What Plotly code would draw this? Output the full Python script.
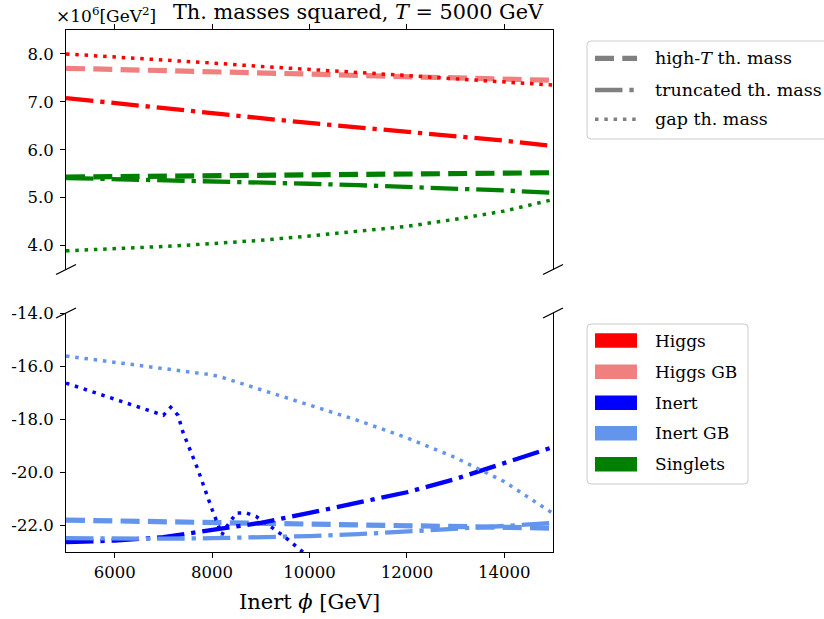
import plotly.graph_objects as go

# ---------------- data (values in units of 1e6 GeV^2) ----------------
x_grid = [5000, 6000, 7000, 8000, 9000, 10000, 11000, 12000, 13000, 14000, 15000]

# upper panel
higgs_trunc = [7.08, 6.97, 6.86, 6.76, 6.66, 6.56, 6.47, 6.38, 6.29, 6.19, 6.08]
higgs_gap = [8.00, 7.94, 7.87, 7.81, 7.74, 7.68, 7.61, 7.55, 7.48, 7.42, 7.35]
higgsgb_hight = [7.70, 7.68, 7.65, 7.63, 7.60, 7.58, 7.55, 7.53, 7.50, 7.48, 7.45]
singlet_hight = [5.43, 5.44, 5.45, 5.45, 5.46, 5.47, 5.48, 5.49, 5.50, 5.51, 5.52]
singlet_trunc = [5.41, 5.39, 5.37, 5.35, 5.32, 5.29, 5.26, 5.23, 5.19, 5.15, 5.10]
singlet_gap = [3.89, 3.93, 3.98, 4.04, 4.11, 4.20, 4.30, 4.40, 4.55, 4.72, 4.96]

# lower panel
inert_trunc = [-22.63, -22.57, -22.44, -22.18, -21.90, -21.53, -21.15, -20.75, -20.25, -19.63, -19.05]
inertgb_hight = [-21.80, -21.83, -21.86, -21.89, -21.92, -21.95, -21.98, -22.01, -22.04, -22.07, -22.10]
inertgb_trunc = [-22.48, -22.50, -22.50, -22.48, -22.45, -22.40, -22.33, -22.24, -22.13, -22.02, -21.90]
inert_gap_x = [5000, 6000, 7000, 7150, 7300, 7400, 7700, 8000, 8200, 8300, 8500, 8700, 8900, 9200, 9500, 9800, 10000]
inert_gap = [-16.64, -17.25, -17.85, -17.55, -17.85, -18.48, -19.85, -21.40, -22.35, -22.04, -21.53, -21.53,
             -21.66, -22.04, -22.44, -22.90, -23.20]
inertgb_gap_x = [5000, 6000, 7000, 8000, 8200, 9000, 10000, 11000, 12000, 13000, 14000, 15000]
inertgb_gap = [-15.62, -15.85, -16.07, -16.33, -16.42, -16.88, -17.45, -18.05, -18.70, -19.45, -20.35, -21.55]

x_ticks = [6000, 8000, 10000, 12000, 14000]
x_ticklabels = ["6000", "8000", "10000", "12000", "14000"]
y_top_ticks = [4.0, 5.0, 6.0, 7.0, 8.0]
y_top_labels = ["4.0", "5.0", "6.0", "7.0", "8.0"]
y_bot_ticks = [-22.0, -20.0, -18.0, -16.0, -14.0]
y_bot_labels = ["-22.0", "-20.0", "-18.0", "-16.0", "-14.0"]

species_names = ["Higgs", "Higgs GB", "Inert", "Inert GB", "Singlets"]
species_colors = ["#ff0000", "#f08080", "#0000ff", "#6495ed", "#008000"]
style_names = ["high-<i>T</i> th. mass", "truncated th. mass", "gap th. mass"]

# ---------------- styles ----------------
FONT = "DejaVu Serif"
STYLES = {
    "dash": dict(width=5.2, dash="19px,8.3px"),
    "dashdot": dict(width=4.3, dash="27.5px,6.9px,4.3px,6.9px"),
    "dot": dict(width=3.5, dash="3.5px,5.8px"),
}
C = dict(zip(species_names, species_colors))

fig = go.Figure()


def add(x, y, name, style, panel):
    ax = dict(xaxis="x2", yaxis="y2") if panel == "top" else dict(xaxis="x", yaxis="y")
    fig.add_trace(go.Scatter(x=x, y=y, mode="lines", showlegend=False, name=name,
                             line=dict(color=C[name], **STYLES[style]), **ax))


# dashed first, then dash-dot, then dotted
add(x_grid, higgsgb_hight, "Higgs GB", "dash", "top")
add(x_grid, singlet_hight, "Singlets", "dash", "top")
add(x_grid, inertgb_hight, "Inert GB", "dash", "bot")
add(x_grid, higgs_trunc, "Higgs", "dashdot", "top")
add(x_grid, singlet_trunc, "Singlets", "dashdot", "top")
add(x_grid, inert_trunc, "Inert", "dashdot", "bot")
add(x_grid, inertgb_trunc, "Inert GB", "dashdot", "bot")
add(x_grid, higgs_gap, "Higgs", "dot", "top")
add(x_grid, singlet_gap, "Singlets", "dot", "top")
add(inert_gap_x, inert_gap, "Inert", "dot", "bot")
add(inertgb_gap_x, inertgb_gap, "Inert GB", "dot", "bot")

# ---------------- layout geometry ----------------
W, H = 824, 619
L, R, T, B = 66, 271, 30, 67
PW, PH = W - L - R, H - T - B


def px(xp):
    return (xp - L) / PW


def py(yp):
    return (H - B - yp) / PH


top_dom = [py(269.5), 1.0]
bot_dom = [0.0, py(313)]

axis_common = dict(showgrid=False, zeroline=False, linecolor="black", linewidth=1.1,
                   ticks="outside", ticklen=5, tickwidth=1, tickcolor="black",
                   tickfont=dict(family=FONT, size=16.5, color="black"))

fig.update_layout(
    width=W, height=H, margin=dict(l=L, r=R, t=T, b=B),
    paper_bgcolor="white", plot_bgcolor="white", template="none",
    font=dict(family=FONT, size=16, color="black"),
    showlegend=False,
    title=dict(text="Th. masses squared, <i>T</i> = 5000 GeV", x=px(358), xref="paper",
               xanchor="center", y=1 - 12 / H, yref="container", yanchor="middle",
               font=dict(family=FONT, size=20.8, color="black")),
    xaxis=dict(domain=[0, 1], anchor="y", range=[5000, 15000], tickvals=x_ticks,
               ticktext=x_ticklabels, showline=True, mirror=False, side="bottom",
               title=dict(text="Inert <i>ϕ</i> [GeV]", font=dict(family=FONT, size=21, color="black"),
                          standoff=13),
               **axis_common),
    xaxis2=dict(domain=[0, 1], anchor="y2", matches="x", range=[5000, 15000], tickvals=x_ticks,
                showticklabels=False, showline=True, mirror=False, side="top", **axis_common),
    yaxis=dict(domain=bot_dom, anchor="x", range=[-23, -14], tickvals=y_bot_ticks,
               ticktext=y_bot_labels, showline=True, mirror=True, ticklabelstandoff=3, **axis_common),
    yaxis2=dict(domain=top_dom, anchor="x2", range=[3.5, 8.5], tickvals=y_top_ticks,
                ticktext=y_top_labels, showline=True, mirror=True, ticklabelstandoff=3, **axis_common),
)

shapes = []
annotations = []

# break marks
for (cx, cy) in [(L, 269.5), (L + PW, 269.5), (L, 313), (L + PW, 313)]:
    shapes.append(dict(type="line", xref="paper", yref="paper",
                       x0=px(cx - 10), y0=py(cy + 5), x1=px(cx + 10), y1=py(cy - 5),
                       line=dict(color="black", width=1.3)))

# offset text
annotations.append(dict(text="×10<sup>6</sup>[GeV<sup>2</sup>]", xref="paper", yref="paper",
                        x=px(54), y=py(15), xanchor="left", yanchor="middle", showarrow=False,
                        font=dict(family=FONT, size=17, color="black")))


def rounded_box(x0, y0, x1, y1, r=4):
    X = lambda v: px(v)
    Y = lambda v: py(v)
    p = (f"M {X(x0 + r)},{Y(y0)} L {X(x1 - r)},{Y(y0)} Q {X(x1)},{Y(y0)} {X(x1)},{Y(y0 + r)} "
         f"L {X(x1)},{Y(y1 - r)} Q {X(x1)},{Y(y1)} {X(x1 - r)},{Y(y1)} "
         f"L {X(x0 + r)},{Y(y1)} Q {X(x0)},{Y(y1)} {X(x0)},{Y(y1 - r)} "
         f"L {X(x0)},{Y(y0 + r)} Q {X(x0)},{Y(y0)} {X(x0 + r)},{Y(y0)} Z")
    return dict(type="path", xref="paper", yref="paper", path=p,
                line=dict(color="#cccccc", width=1), fillcolor="white", layer="above")


# legend 1: line styles
shapes.append(rounded_box(587, 41, 840, 139))
leg1_y = [58.3, 90, 119.3]
for name, key, yy in zip(style_names, ["dash", "dashdot", "dot"], leg1_y):
    st = STYLES[key]
    shapes.append(dict(type="line", xref="paper", yref="paper", x0=px(595), x1=px(637),
                       y0=py(yy), y1=py(yy), layer="above",
                       line=dict(color="#808080", width=st["width"], dash=st["dash"])))
    annotations.append(dict(text=name, xref="paper", yref="paper", x=px(653), y=py(yy),
                            xanchor="left", yanchor="middle", showarrow=False,
                            font=dict(family=FONT, size=17.5, color="black")))

# legend 2: colours
shapes.append(rounded_box(587, 324, 748, 484))
leg2_y = [340.5, 371.7, 402.7, 433.3, 464.3]
for name, col, yy in zip(species_names, species_colors, leg2_y):
    shapes.append(dict(type="rect", xref="paper", yref="paper", x0=px(595), x1=px(637),
                       y0=py(yy - 7.2), y1=py(yy + 7.2), fillcolor=col, line=dict(width=0),
                       layer="above"))
    annotations.append(dict(text=name, xref="paper", yref="paper", x=px(653), y=py(yy),
                            xanchor="left", yanchor="middle", showarrow=False,
                            font=dict(family=FONT, size=17, color="black")))

fig.update_layout(shapes=shapes, annotations=annotations)
fig.write_html("out.html")
